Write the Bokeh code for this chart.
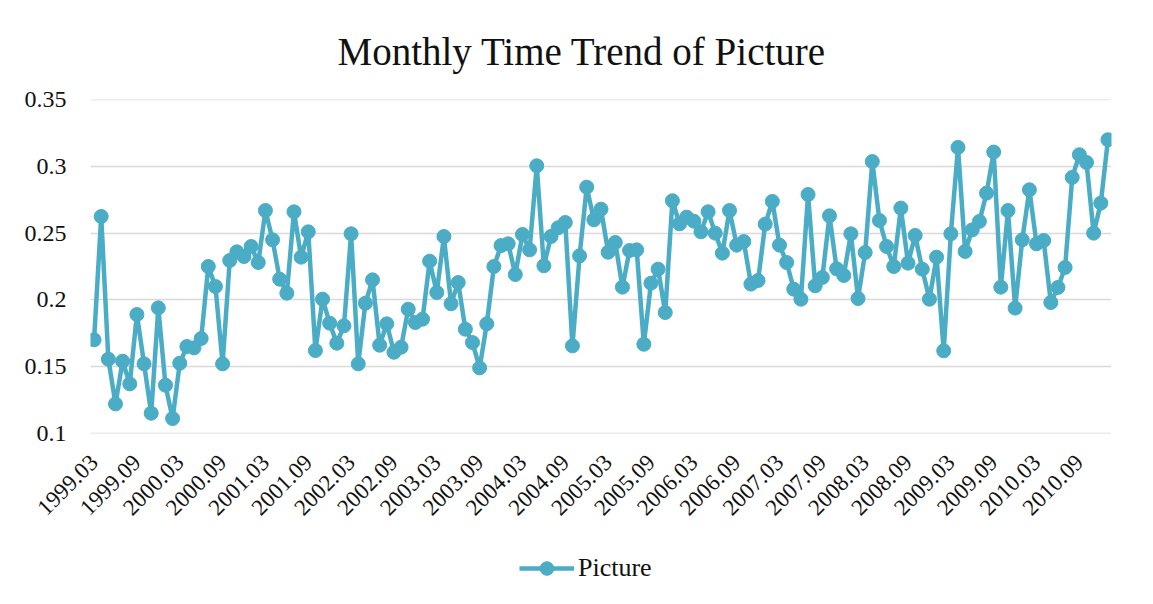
from math import pi
from bokeh.plotting import figure
from bokeh.layouts import column
from bokeh.models import Range1d, FixedTicker, Legend, LegendItem
from bokeh.embed import file_html
from bokeh.resources import INLINE

# categories: months 1999.03 .. 2011.01
months = []
y0, m0 = 1999, 3
for k in range(143):
    mm = m0 - 1 + k
    months.append(f"{y0 + mm // 12}.{mm % 12 + 1:02d}")

picture = [
    0.170, 0.2625, 0.1555, 0.122, 0.154, 0.137, 0.189, 0.152, 0.115, 0.194,
    0.136, 0.111, 0.1525, 0.165, 0.164, 0.171, 0.225, 0.210, 0.152, 0.2295,
    0.236, 0.2325, 0.240, 0.228, 0.267, 0.245, 0.2155, 0.205, 0.266, 0.232,
    0.251, 0.162, 0.2005, 0.1825, 0.1675, 0.1805, 0.2495, 0.152, 0.1975, 0.215,
    0.166, 0.182, 0.1607, 0.1645, 0.193, 0.183, 0.1855, 0.229, 0.2055, 0.2475,
    0.197, 0.213, 0.178, 0.168, 0.149, 0.182, 0.225, 0.2407, 0.242, 0.219,
    0.249, 0.2375, 0.3005, 0.2255, 0.2475, 0.254, 0.258, 0.1655, 0.233, 0.2845,
    0.260, 0.268, 0.2357, 0.243, 0.2095, 0.237, 0.2375, 0.1667, 0.2125, 0.223,
    0.1905, 0.2743, 0.257, 0.262, 0.259, 0.251, 0.266, 0.250, 0.235, 0.267,
    0.241, 0.2437, 0.2118, 0.2145, 0.2568, 0.2738, 0.241, 0.228, 0.208, 0.2005,
    0.279, 0.2105, 0.2168, 0.263, 0.2233, 0.2183, 0.2495, 0.201, 0.2355, 0.3037,
    0.2595, 0.240, 0.225, 0.2688, 0.2275, 0.2483, 0.223, 0.2005, 0.232, 0.1618,
    0.2495, 0.3143, 0.2363, 0.2525, 0.2588, 0.280, 0.3108, 0.2095, 0.267, 0.1938,
    0.245, 0.2825, 0.242, 0.2445, 0.198, 0.2093, 0.2243, 0.2918, 0.3088, 0.303,
    0.250, 0.2725, 0.320,
]

y_ticks = [0.1, 0.15, 0.2, 0.25, 0.3, 0.35]
y_tick_labels = ["0.1", "0.15", "0.2", "0.25", "0.3", "0.35"]
x_tick_step = 6

title_text = "Monthly Time Trend of Picture"
series_name = "Picture"
color = "#4BACC6"
serif = "Liberation Serif"

xs = list(range(len(months)))

p = figure(width=1144, height=537, output_backend="svg", toolbar_location=None,
           x_range=Range1d(-0.5, len(months) - 0.5),
           y_range=Range1d(0.0998, 0.3502),
           min_border_left=90, min_border_right=33, min_border_top=99,
           min_border_bottom=104)

p.title.text = title_text
p.title.align = "left"
p.title.offset = 247
p.title.standoff = 53
p.title.text_font = serif
p.title.text_font_size = "39px"
p.title.text_font_style = "normal"
p.title.text_color = "#111111"

p.outline_line_color = None
p.background_fill_color = "white"
p.border_fill_color = "white"

p.xgrid.visible = False
p.ygrid.grid_line_color = "#D9D9D9"
p.ygrid.grid_line_width = 1.3

p.yaxis.ticker = FixedTicker(ticks=y_ticks)
p.yaxis.major_label_overrides = dict(zip(y_ticks, y_tick_labels))
p.xaxis.ticker = FixedTicker(ticks=xs[::x_tick_step])
p.xaxis.major_label_overrides = {i: months[i] for i in xs[::x_tick_step]}
p.xaxis.major_label_orientation = pi / 4

for ax in (p.xaxis, p.yaxis):
    ax.axis_line_color = None
    ax.major_tick_line_color = None
    ax.minor_tick_line_color = None
    ax.major_tick_out = 0
    ax.major_tick_in = 0
    ax.major_label_text_font = serif
    ax.major_label_text_color = "#111111"
p.yaxis.major_label_text_font_size = "24px"
p.yaxis.major_label_standoff = 24
p.xaxis.major_label_text_font_size = "23px"
p.xaxis.major_label_standoff = 25

line_r = p.line(xs, picture, line_color=color, line_width=4.5)
dot_r = p.scatter(xs, picture, size=14, fill_color=color, line_color=color)

# legend strip below the chart (its own renderers are kept out of its view)
lg = figure(width=1144, height=62, output_backend="svg", toolbar_location=None,
            x_range=Range1d(-1000, -999), y_range=Range1d(-1000, -999),
            min_border_left=0, min_border_right=0, min_border_top=0,
            min_border_bottom=0)
lg.axis.visible = False
lg.grid.visible = False
lg.outline_line_color = None
lg_line = lg.line(xs, picture, line_color=color, line_width=4.5)
lg_dot = lg.scatter(xs, picture, size=14, fill_color=color, line_color=color)

legend = Legend(items=[LegendItem(label=series_name, renderers=[lg_line, lg_dot])],
                location=(429, 14), orientation="horizontal",
                glyph_width=55, glyph_height=34, label_standoff=4,
                label_text_font=serif, label_text_font_size="26px",
                label_text_color="#111111", padding=0, margin=0,
                border_line_color=None, background_fill_alpha=0)
lg.add_layout(legend, "center")

open("out.html", "w").write(file_html(column(p, lg, spacing=0), INLINE))
